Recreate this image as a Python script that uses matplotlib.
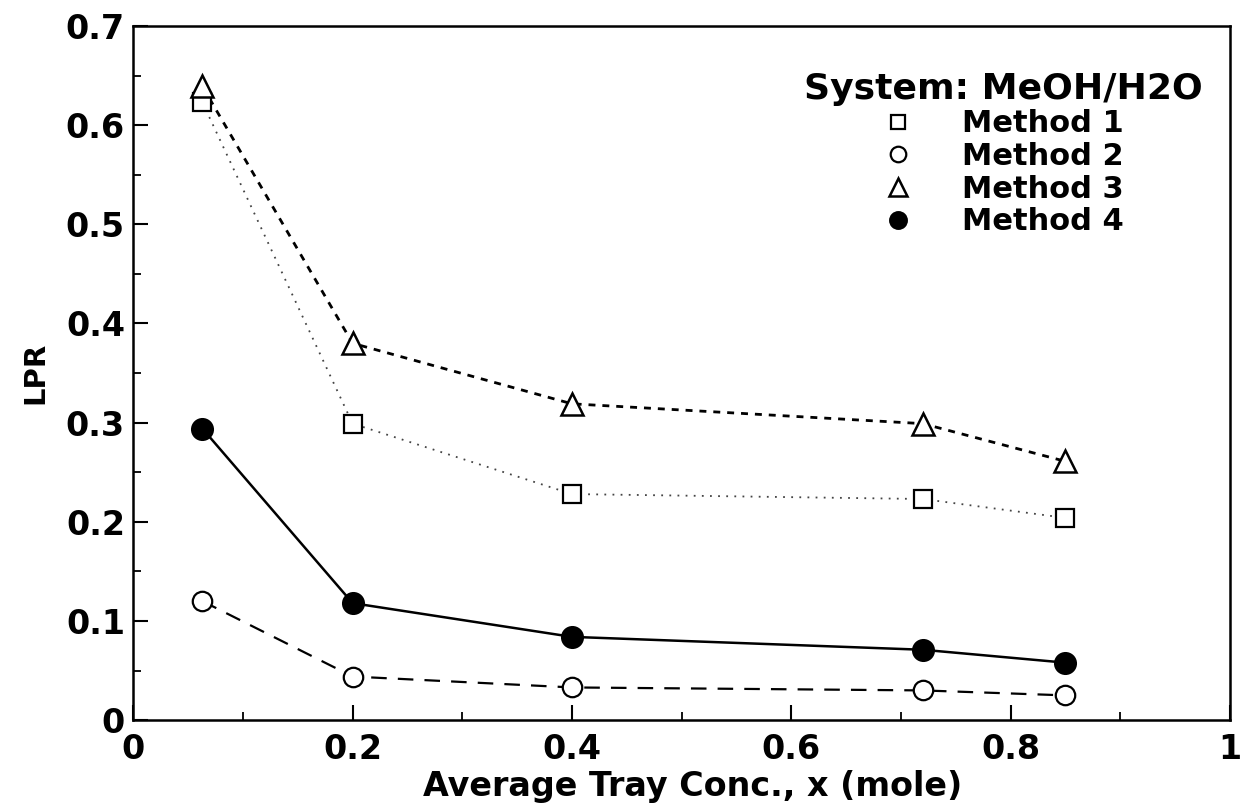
import matplotlib.pyplot as plt
from matplotlib.ticker import MultipleLocator

# data
x = [0.063, 0.2, 0.4, 0.72, 0.85]
method1 = [0.623, 0.299, 0.228, 0.223, 0.204]
method2 = [0.120, 0.044, 0.033, 0.030, 0.025]
method3 = [0.639, 0.380, 0.319, 0.299, 0.261]
method4 = [0.294, 0.118, 0.084, 0.071, 0.058]

x_ticks = [0, 0.2, 0.4, 0.6, 0.8, 1]
x_ticklabels = ['0', '0.2', '0.4', '0.6', '0.8', '1']
y_ticks = [0, 0.1, 0.2, 0.3, 0.4, 0.5, 0.6, 0.7]
y_ticklabels = ['0', '0.1', '0.2', '0.3', '0.4', '0.5', '0.6', '0.7']

# wide bold sans, closest to the stretched Helvetica of the scan
plt.rcParams['font.family'] = ['DejaVu Sans']
plt.rcParams['font.weight'] = 'bold'

fig = plt.figure(figsize=(12.46, 8.11), dpi=100)
ax = fig.add_axes([0.107, 0.112, 0.88, 0.856])

# connecting lines
ax.plot(x, method1, color='#444444', lw=1.3, ls=(0, (1, 3.5)))
ax.plot(x, method2, color='black', lw=1.6, ls=(0, (7, 5)))
ax.plot(x, method3, color='black', lw=2.0, ls=(0, (2.5, 2.5)))
ax.plot(x, method4, color='black', lw=1.8, ls='-')

# markers
ax.plot(x, method1, ls='none', marker='s', ms=13, mfc='white', mec='black', mew=1.6, label='Method 1')
ax.plot(x, method2, ls='none', marker='o', ms=14, mfc='white', mec='black', mew=1.6, label='Method 2')
ax.plot(x, method3, ls='none', marker='^', ms=16, mfc='white', mec='black', mew=1.8, label='Method 3')
ax.plot(x, method4, ls='none', marker='o', ms=15, mfc='black', mec='black', mew=1.6, label='Method 4')

ax.set_xlim(0, 1)
ax.set_ylim(0, 0.7)
ax.set_xticks(x_ticks)
ax.set_xticklabels(x_ticklabels)
ax.set_yticks(y_ticks)
ax.set_yticklabels(y_ticklabels)
ax.xaxis.set_minor_locator(MultipleLocator(0.1))
ax.yaxis.set_minor_locator(MultipleLocator(0.05))
ax.tick_params(which='major', direction='in', length=11, width=1.5, labelsize=24)
ax.tick_params(axis='x', which='major', pad=9)
ax.tick_params(axis='y', which='major', pad=6)
ax.tick_params(which='minor', direction='in', length=6, width=1.3)
for s in ax.spines.values():
    s.set_linewidth(1.8)

ax.set_xlabel('Average Tray Conc., x (mole)', fontsize=24, fontweight='bold', labelpad=0)
ax.xaxis.set_label_coords(0.51, -0.072)
ax.set_ylabel('LPR', fontsize=21, fontweight='bold', labelpad=12)

leg = ax.legend(loc='upper right', bbox_to_anchor=(0.995, 0.965), frameon=False,
                title='System: MeOH/H2O', fontsize=22, title_fontsize=26,
                handlelength=1.0, handletextpad=1.6, labelspacing=0.12,
                markerscale=0.8, borderpad=0.2)
leg.get_title().set_fontweight('bold')

fig.savefig('out.png', dpi=100)
